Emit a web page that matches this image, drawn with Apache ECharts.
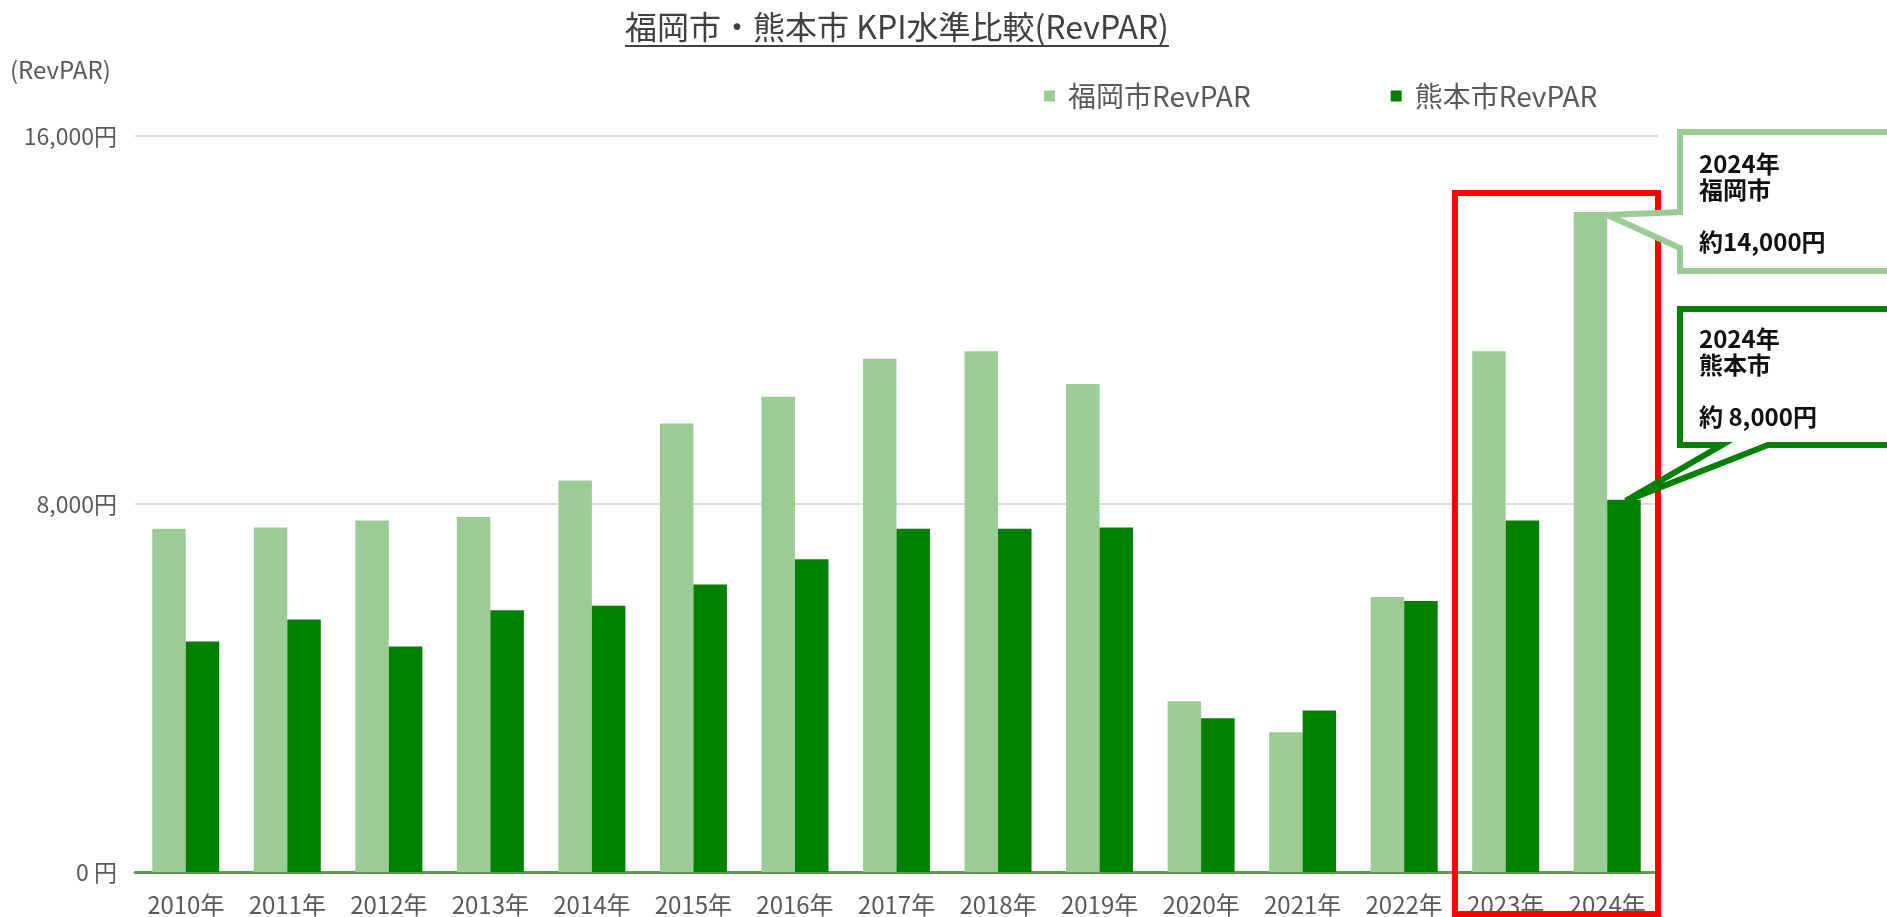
<!DOCTYPE html>
<html><head><meta charset="utf-8">
<script src="https://cdn.jsdelivr.net/npm/echarts@6/dist/echarts.min.js"></script>
<style>html,body{margin:0;padding:0;background:#fff}#c{width:1887px;height:917px}</style>
</head><body><div id="c"></div>
<script>
// ---- data ----
const years = ['2010年','2011年','2012年','2013年','2014年','2015年','2016年','2017年','2018年','2019年','2020年','2021年','2022年','2023年','2024年'];
const fukuokaRevPAR = [7460, 7490, 7640, 7720, 8510, 9750, 10330, 11160, 11320, 10610, 3710, 3040, 5980, 11320, 14350];
const kumamotoRevPAR = [5010, 5490, 4900, 5690, 5790, 6250, 6800, 7460, 7460, 7490, 3340, 3510, 5890, 7640, 8090];
const yTickValues = [0, 8000, 16000];
const yTickLabels = ['0 円', '8,000円', '16,000円'];
const seriesNames = ['福岡市RevPAR', '熊本市RevPAR'];
const titleText = '福岡市・熊本市 KPI水準比較(RevPAR)';
const yAxisUnit = '(RevPAR)';
const calloutFukuoka = ['2024年', '福岡市', '', '約14,000円'];
const calloutKumamoto = ['2024年', '熊本市', '', '約 8,000円'];
const highlightFrom = '2023年', highlightTo = '2024年';

// ---- styles ----
const FONT = "'Noto Sans CJK JP', 'Noto Sans', sans-serif";
const LIGHT = '#9CCC96', DARK = '#008000';
const LABEL = '#595959';

const chart = echarts.init(document.getElementById('c'), null, {renderer: 'canvas'});
chart.setOption({
  animation: false,
  backgroundColor: '#ffffff',
  textStyle: {fontFamily: FONT},
  grid: {left: 135, right: 229, top: 136, bottom: 42, containLabel: false},
  legend: {
    data: seriesNames, icon: 'rect', itemWidth: 11, itemHeight: 11,
    left: 1039, top: 77, itemGap: 140,
    textStyle: {fontSize: 28, color: LABEL, fontFamily: FONT, padding: [0, 0, 0, 8]}
  },
  xAxis: {
    type: 'category', data: years,
    axisLine: {lineStyle: {color: '#5F9B50', width: 3}},
    axisTick: {show: false},
    axisLabel: {fontSize: 24, color: LABEL, margin: 21, fontFamily: FONT}
  },
  yAxis: {
    type: 'value', min: yTickValues[0], max: yTickValues[yTickValues.length - 1],
    interval: yTickValues[1] - yTickValues[0],
    axisLine: {show: false}, axisTick: {show: false},
    splitLine: {lineStyle: {color: '#DCDCDC', width: 2}},
    axisLabel: {
      fontSize: 23, color: LABEL, margin: 18, fontFamily: FONT,
      formatter: v => yTickLabels[yTickValues.indexOf(v)] ?? ''
    }
  },
  series: [
    {name: seriesNames[0], type: 'bar', data: fukuokaRevPAR, itemStyle: {color: LIGHT},
     barGap: '0%', barCategoryGap: '34%'},
    {name: seriesNames[1], type: 'bar', data: kumamotoRevPAR, itemStyle: {color: DARK},
     barGap: '0%', barCategoryGap: '34%'}
  ]
});

// ---- annotations (positioned from the chart's own scales) ----
function barTop(seriesIndex, idx) {
  const data = chart.getModel().getSeriesByIndex(seriesIndex).getData();
  const l = data.getItemLayout(idx);
  return {x: l.x, w: l.width, top: l.y + l.height};
}
const i24 = years.indexOf(highlightTo);
const c23 = chart.convertToPixel({xAxisIndex: 0}, highlightFrom);
const c24 = chart.convertToPixel({xAxisIndex: 0}, highlightTo);
const band = c24 - c23;

const fk = barTop(0, i24);
const km = barTop(1, i24);

// title width for underline
const mc = document.createElement('canvas').getContext('2d');
mc.font = "32px " + FONT;
const tw = mc.measureText(titleText).width;
const TX = 897;

const L = 1680, R = 1900;
const fT = 132, fB = 271;
const kT = 309, kB = 445;
const fTip = [fk.x + fk.w, fk.top + 3];
const kTip = [km.x + km.w * 0.55, km.top + 1];

chart.setOption({
  graphic: [
    {type: 'text', left: 10, top: 58, style: {text: yAxisUnit, font: "24px " + FONT, fill: LABEL}},
    {type: 'text', x: TX, y: 27, style: {text: titleText, font: "32px " + FONT, fill: '#404040', textAlign: 'center', textVerticalAlign: 'middle'}},
    {type: 'line', shape: {x1: TX - tw / 2, y1: 46, x2: TX + tw / 2, y2: 46}, style: {stroke: '#404040', lineWidth: 2}},
    {type: 'rect', z: 10,
     shape: {x: c23 - band / 2, y: 193, width: band * 2, height: 914 - 193},
     style: {fill: 'none', stroke: '#FF0000', lineWidth: 6}},
    {type: 'polygon', z: 20,
     shape: {points: [[L, fT], [R, fT], [R, fB], [L, fB], [L, 248], fTip, [L, 212]]},
     style: {fill: '#ffffff', stroke: LIGHT, lineWidth: 6, lineJoin: 'miter'}},
    {type: 'polygon', z: 20,
     shape: {points: [[L, kT], [R, kT], [R, kB], [1768, kB], kTip, [1722, kB], [L, kB]]},
     style: {fill: '#ffffff', stroke: DARK, lineWidth: 6, lineJoin: 'miter'}},
    {type: 'text', z: 21, x: 1699, y: 151,
     style: {text: calloutFukuoka.join('\n'), font: "bold 24px " + FONT, fill: '#111', lineHeight: 26, textVerticalAlign: 'top'}},
    {type: 'text', z: 21, x: 1699, y: 326,
     style: {text: calloutKumamoto.join('\n'), font: "bold 24px " + FONT, fill: '#111', lineHeight: 26, textVerticalAlign: 'top'}}
  ]
});
</script></body></html>
